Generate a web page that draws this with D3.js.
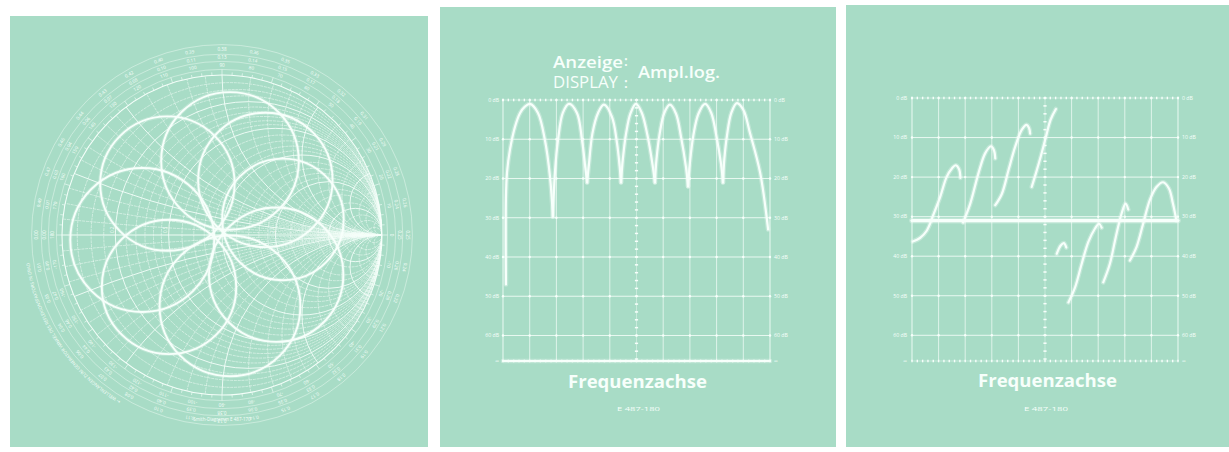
<!DOCTYPE html>
<html><head><meta charset="utf-8">
<script src="https://cdn.jsdelivr.net/npm/d3@7"></script>
<style>body{margin:0;background:#fff}svg{display:block}</style>
</head><body>
<svg id="c" width="1229" height="452"></svg>
<script>
// ---------------- DATA ----------------
const dbTickLabels = ["0 dB","10 dB","20 dB","30 dB","40 dB","50 dB","60 dB","∞"];
const dbTickValues = [0,10,20,30,40,50,60,66.5];
const divisions = [0,1,2,3,4,5,6,7,8,9,10];

// amplitude (log) trace: arches [frequency division, dB]
const ampArch1 = [[0.11,47],[0.11,25],[0.15,18.5],[0.26,12.7],[0.45,6.8],[0.64,3.3],[0.82,1.7],[1.01,1.0],[1.31,3.3],[1.57,10.2],[1.76,19.5],[1.87,29.7]];
const ampArch2 = [[1.87,29.7],[1.95,18],[2.06,10.2],[2.24,3.3],[2.47,1.0],[2.77,3.3],[2.96,10.2],[3.08,17],[3.15,21]];
const ampArch3 = [[3.15,21],[3.21,17],[3.35,8.5],[3.56,3.3],[3.78,1.2],[4.08,4.3],[4.27,11],[4.37,17],[4.42,21]];
const ampArch4 = [[4.42,21],[4.49,15],[4.61,8.5],[4.78,3.3],[4.98,1.0],[5.2,3.3],[5.41,9],[5.59,16],[5.69,21]];
const ampArch5 = [[5.69,21],[5.75,15],[5.87,8.5],[6.04,3.3],[6.25,1.2],[6.48,3.5],[6.67,9.5],[6.85,17],[6.93,22]];
const ampArch6 = [[6.93,22],[7.0,16],[7.13,9],[7.32,3.5],[7.57,1.0],[7.8,3.3],[8.0,9.5],[8.16,16],[8.24,21]];
const ampArch7 = [[8.24,21],[8.29,15],[8.39,9],[8.55,3.3],[8.76,0.8],[9.0,2.5],[9.25,8.4],[9.63,18.5],[9.93,33]];
const ampNoiseFloor = [[0,66.5],[10,66.5]];

// phase trace segments [frequency division, graticule dB]
const phaseSeg1 = [[0.03,36.3],[0.3,35.4],[0.56,33.5],[0.81,29.4],[1.06,25],[1.3,20],[1.5,17.8],[1.65,17.0],[1.77,18.0],[1.82,20.2]];
const phaseSeg2 = [[1.92,31.5],[2.19,26.7],[2.5,19],[2.75,14],[2.97,12.2],[3.08,13.2],[3.13,15.3]];
const phaseSeg3 = [[3.13,27.1],[3.38,24.2],[3.63,18.2],[3.88,12.3],[4.13,8],[4.31,6.8],[4.4,7.6],[4.44,9]];
const phaseSeg4 = [[4.5,22.5],[4.66,19],[4.84,14.8],[5.04,9.7],[5.21,5.5],[5.41,2.8]];
const phaseSeg5 = [[5.44,39.4],[5.59,37.3],[5.71,36.7],[5.8,37.8]];
const phaseSeg6 = [[5.88,51.7],[6.13,47.9],[6.38,41.9],[6.63,36.4],[6.88,33],[7.03,31.8],[7.13,32.8]];
const phaseSeg7 = [[7.19,46.6],[7.44,41.9],[7.66,35.2],[7.88,29.2],[8.03,26.7],[8.13,28.2]];
const phaseSeg8 = [[8.19,41.1],[8.44,37.7],[8.69,31.8],[8.94,25.8],[9.19,22.5],[9.44,21.3],[9.66,22.9],[9.81,26.7],[9.94,31]];
const phaseReference = [[0,31],[10,31]];

// Smith chart grid values
const smithR = [0.05,0.1,0.15,0.2,0.25,0.3,0.35,0.4,0.45,0.5,0.6,0.7,0.8,0.9,1.0,1.2,1.4,1.6,1.8,2.0,2.5,3,4,5,7,10,20];
const smithX = [0.05,0.1,0.15,0.2,0.25,0.3,0.35,0.4,0.45,0.5,0.6,0.7,0.8,0.9,1.0,1.2,1.4,1.6,1.8,2.0,2.5,3,4,5,7,10,20];
const smithMajor = [0.2,0.5,1.0,2.0,5];
const smithRLabels = [0.2,0.5,1.0,2.0,5.0];
// locus loops (reflection coefficient plane): direction (deg), centre distance, loop radius
const roseCentre = [-0.03, 0.01];
const loopAngle  = [12, 48, 80, 135, 185, 228, 280, 325];
const loopDist   = [0.42, 0.45, 0.46, 0.44, 0.47, 0.45, 0.46, 0.45];
const loopRadius = [0.38, 0.42, 0.43, 0.42, 0.45, 0.42, 0.44, 0.42];

// ---------------- DRAW ----------------
const svg = d3.select("#c");
const BG = "#a8dcc6", FG = "#f7fffb";
const FONT = "'Open Sans', 'DejaVu Sans', sans-serif";

// panels
[[10,16,418,431],[440,7,396,440],[846,5,383,442]].forEach(p=>{
  svg.append("rect").attr("x",p[0]).attr("y",p[1]).attr("width",p[2]).attr("height",p[3]).attr("fill",BG);
});

// ---------- graticule helper ----------
function graticule(x0,x1,y0,y1,labL,labR){
  const g = svg.append("g");
  const xs = d3.scaleLinear().domain([0,10]).range([x0,x1]);
  const ys = d3.scaleLinear().domain([0,66.5]).range([y0,y1]);
  const lines = g.append("g").attr("stroke",FG).attr("fill","none");
  lines.selectAll("line.v").data(divisions).join("line").attr("class","v")
    .attr("x1",d=>xs(d)).attr("x2",d=>xs(d)).attr("y1",y0).attr("y2",y1)
    .attr("stroke-width",d=>(d===0||d===10)?1:0.8).attr("stroke-opacity",d=>d===5?0.5:0.85);
  lines.selectAll("line.h").data(dbTickValues.slice(1,7)).join("line").attr("class","h")
    .attr("x1",x0).attr("x2",x1).attr("y1",d=>ys(d)).attr("y2",d=>ys(d))
    .attr("stroke-width",0.9).attr("stroke-opacity",0.9);
  // dotted top and bottom lines
  const minor = d3.range(0,50.01,1).map(i=>i/5);
  [0,66.5].forEach(v=>{
    lines.append("line").attr("x1",x0).attr("x2",x1).attr("y1",ys(v)).attr("y2",ys(v))
      .attr("stroke-width",0.7).attr("stroke-opacity",0.6);
    g.append("g").selectAll("line").data(minor).join("line")
      .attr("x1",d=>xs(d)).attr("x2",d=>xs(d)).attr("y1",ys(v)-1.3).attr("y2",ys(v)+1.3)
      .attr("stroke",FG).attr("stroke-width",1.4);
  });
  // dotted centre vertical
  g.append("g").selectAll("line").data(d3.range(0,66.5,2)).join("line")
    .attr("x1",xs(5)-1.6).attr("x2",xs(5)+1.6).attr("y1",d=>ys(d)).attr("y2",d=>ys(d))
    .attr("stroke",FG).attr("stroke-width",1.5);
  // intersection dots
  const pts=[]; divisions.forEach(a=>dbTickValues.slice(0,7).forEach(b=>pts.push([a,b])));
  g.append("g").selectAll("circle").data(pts).join("circle")
    .attr("cx",d=>xs(d[0])).attr("cy",d=>ys(d[1])).attr("r",1.2).attr("fill",FG);
  // labels
  const lab = g.append("g").attr("font-family",FONT).attr("font-size",5.2).attr("fill",FG);
  lab.selectAll("text.l").data(dbTickValues).join("text").attr("class","l")
    .attr("x",labL).attr("y",d=>ys(d)).attr("dy","0.35em").attr("text-anchor","end")
    .text((d,i)=>dbTickLabels[i]);
  lab.selectAll("text.r").data(dbTickValues).join("text").attr("class","r")
    .attr("x",labR).attr("y",d=>ys(d)).attr("dy","0.35em").attr("text-anchor","start")
    .text((d,i)=>dbTickLabels[i]);
  return {xs,ys,g};
}

function trace(ctx, data, w, curve){
  const line = d3.line().x(d=>ctx.xs(d[0])).y(d=>ctx.ys(d[1])).curve(curve||d3.curveCatmullRom.alpha(0.5));
  ctx.g.append("path").attr("d",line(data)).attr("fill","none").attr("stroke",FG)
    .attr("stroke-opacity",0.3).attr("stroke-width",w+2.5).attr("stroke-linecap","round").attr("stroke-linejoin","round");
  ctx.g.append("path").attr("d",line(data)).attr("fill","none").attr("stroke",FG)
    .attr("stroke-width",w).attr("stroke-linecap","round").attr("stroke-linejoin","round");
}

// ---------- Panel 2: amplitude ----------
const amp = graticule(503,770,100,361,499,774);
[ampArch1,ampArch2,ampArch3,ampArch4,ampArch5,ampArch6,ampArch7].forEach(a=>trace(amp,a,2.2));
trace(amp,ampNoiseFloor,2.2,d3.curveLinear);

function txt(x,y,s,size,len,weight,anchor){
  const t = svg.append("text").attr("x",x).attr("y",y).attr("font-family",FONT)
    .attr("font-size",size).attr("font-weight",weight||600).attr("fill",FG)
    .attr("text-anchor",anchor||"start").text(s);
  if(len) t.attr("textLength",len).attr("lengthAdjust","spacingAndGlyphs");
  return t;
}
txt(553,68,"Anzeige",17,70,600);
txt(553,88,"DISPLAY",15.5,65,500);
txt(624,66,":",14,null,600);
txt(624,88,":",14,null,600);
txt(638,78,"Ampl.log.",17,82,600);
txt(568,388,"Frequenzachse",18.5,139,700);
txt(617,411,"E 487-180",6,43,500);

// ---------- Panel 3: phase ----------
const ph = graticule(912,1178,98,361,907,1182);
trace(ph,phaseReference,3.2,d3.curveLinear);
[phaseSeg1,phaseSeg2,phaseSeg3,phaseSeg4,phaseSeg5,phaseSeg6,phaseSeg7,phaseSeg8].forEach(a=>trace(ph,a,2.2));
txt(978,387,"Frequenzachse",18.5,139,700);
txt(1024,411,"E 487-180",6,44,500);

// ---------- Panel 1: Smith chart ----------
const SC = {cx:222, cy:235, R:160};
const gx = d3.scaleLinear().domain([-1,1]).range([SC.cx-SC.R, SC.cx+SC.R]);
const gy = d3.scaleLinear().domain([-1,1]).range([SC.cy+SC.R, SC.cy-SC.R]);
const k = gx(1)-gx(0);
svg.append("defs").append("clipPath").attr("id","uc").append("circle")
  .attr("cx",gx(0)).attr("cy",gy(0)).attr("r",k);
const sg = svg.append("g");
const grid = sg.append("g").attr("clip-path","url(#uc)").attr("fill","none").attr("stroke",FG);
const sw = v=>smithMajor.includes(v)?1.0:0.6;
const dash = v=>smithMajor.includes(v)?null:"3,0.8";
grid.selectAll("circle.rc").data(smithR).join("circle").attr("class","rc")
  .attr("cx",r=>gx(r/(1+r))).attr("cy",gy(0)).attr("r",r=>k/(1+r))
  .attr("stroke-width",sw).attr("stroke-opacity",0.85).attr("stroke-dasharray",dash);
grid.selectAll("circle.xp").data(smithX).join("circle").attr("class","xp")
  .attr("cx",gx(1)).attr("cy",x=>gy(1/x)).attr("r",x=>k/x)
  .attr("stroke-width",sw).attr("stroke-opacity",0.85).attr("stroke-dasharray",dash);
grid.selectAll("circle.xn").data(smithX).join("circle").attr("class","xn")
  .attr("cx",gx(1)).attr("cy",x=>gy(-1/x)).attr("r",x=>k/x)
  .attr("stroke-width",sw).attr("stroke-opacity",0.85).attr("stroke-dasharray",dash);
grid.append("line").attr("x1",gx(-1)).attr("x2",gx(1)).attr("y1",gy(0)).attr("y2",gy(0)).attr("stroke-width",0.9);

// rings
const rings = [1.0,1.035,1.085,1.13,1.19];
sg.append("g").selectAll("circle").data(rings).join("circle")
  .attr("cx",gx(0)).attr("cy",gy(0)).attr("r",d=>d*k).attr("fill","none").attr("stroke",FG)
  .attr("stroke-width",(d,i)=>i===0?1.1:0.6).attr("stroke-opacity",(d,i)=>i===0?0.95:0.7);
// rim ticks
const tickAngles = d3.range(0,360,3.6);
sg.append("g").selectAll("line").data(tickAngles).join("line")
  .attr("x1",a=>gx(Math.cos(a*Math.PI/180))).attr("y1",a=>gy(Math.sin(a*Math.PI/180)))
  .attr("x2",(a,i)=>gx((i%5===0?1.035:1.018)*Math.cos(a*Math.PI/180)))
  .attr("y2",(a,i)=>gy((i%5===0?1.035:1.018)*Math.sin(a*Math.PI/180)))
  .attr("stroke",FG).attr("stroke-width",0.6);
// rim labels
const labAngles = d3.range(0,360,10);
const rimLab = sg.append("g").attr("font-family",FONT).attr("font-size",4.6).attr("fill",FG).attr("text-anchor","middle");
function rimText(rad, fmt){
  rimLab.append("g").selectAll("text").data(labAngles).join("text")
    .attr("transform",a=>`translate(${gx(rad*Math.cos(a*Math.PI/180))},${gy(rad*Math.sin(a*Math.PI/180))}) rotate(${90-a})`)
    .attr("dy","0.35em").text(fmt);
}
rimText(1.06, a=>{const v=a<=180?a:a-360; return String(v);});
rimText(1.108, a=>((((180-a)/720)%0.5+0.5)%0.5).toFixed(2));
rimText(1.16, a=>((0.5-(((180-a)/720)%0.5+0.5)%0.5)%0.5).toFixed(2));
// r labels on axis
sg.append("g").attr("font-family",FONT).attr("font-size",4.5).attr("fill",FG).selectAll("text")
  .data(smithRLabels).join("text")
  .attr("transform",r=>`translate(${gx((r-1)/(r+1))-1.5},${gy(0)-2}) rotate(-90)`).text(r=>r.toFixed(1));
// caption
sg.append("text").attr("x",gx(0)).attr("y",gy(-1.165)).attr("text-anchor","middle")
  .attr("font-family",FONT).attr("font-size",4.5).attr("fill",FG).text("Smith-Diagramm  E 487-170");
const arcP = d3.path(); arcP.arc(gx(0),gy(0),1.215*k,Math.PI*0.62,Math.PI*1.3);
sg.append("path").attr("id","arcl").attr("d",arcP.toString()).attr("fill","none");
sg.append("text").attr("font-family",FONT).attr("font-size",4.5).attr("fill",FG)
  .append("textPath").attr("href","#arcl").attr("startOffset","8%")
  .text("← WELLENLÄNGEN ZUM GENERATOR        WINKEL DES REFLEXIONSFAKTORS IN GRAD");

// locus loops
const loops = loopAngle.map((a,i)=>({
  cx: roseCentre[0]+loopDist[i]*Math.cos(a*Math.PI/180),
  cy: roseCentre[1]+loopDist[i]*Math.sin(a*Math.PI/180),
  r: loopRadius[i]}));
const lg = sg.append("g").attr("fill","none").attr("stroke",FG);
lg.selectAll("circle.glow").data(loops).join("circle").attr("class","glow")
  .attr("cx",d=>gx(d.cx)).attr("cy",d=>gy(d.cy)).attr("r",d=>d.r*k)
  .attr("stroke-width",4).attr("stroke-opacity",0.25);
lg.selectAll("circle.main").data(loops).join("circle").attr("class","main")
  .attr("cx",d=>gx(d.cx)).attr("cy",d=>gy(d.cy)).attr("r",d=>d.r*k)
  .attr("stroke-width",1.9);
</script>
</body></html>
